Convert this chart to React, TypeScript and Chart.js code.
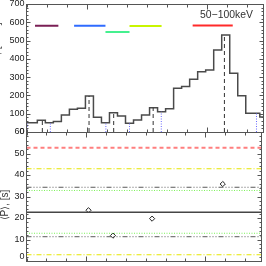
import React, { useEffect, useRef } from "react";
import { Chart, registerables } from "chart.js";

Chart.register(...registerables);

const FONT = "'Liberation Sans', Arial, Helvetica, sans-serif";

// ---------- top panel: light curve (counts) ----------
const BIN_STARTS = [0, 5.4, 9.4, 13.4, 17.4, 21.4, 25.4, 29.4, 33.4, 37.4, 41.4, 45.4, 49.4, 53.4, 57.4, 61.4, 65.4, 69.4, 73.4, 77.4, 81.4, 85.4, 89.4, 93.4, 97.4, 101.4, 105.4, 109.4, 116.4];
const COUNTS = [51, 64, 51, 58, 93, 124, 130, 197, 80, 51, 105, 87, 48, 66, 93, 133, 111, 127, 239, 249, 288, 330, 339, 448, 530, 321, 198, 102, 82];
const X_MIN = 0;
const X_MAX = 118;
const PEAK_TIMES = [7.9, 31.2, 43.5, 63.2, 98.75];
const MIN_TIMES = [0.3, 11.9, 39.6, 51.4, 67.25, 114.75];
const BAR_STARTS = [4.25, 23.75, 39.4, 51.4, 82.9];
const BAR_ENDS = [15.9, 39.4, 51.4, 67.4, 102.9];
const BAR_LEVELS = [581, 581, 547, 580, 583];
const BAR_COLORS = ["#7a1f55", "#2f6bff", "#45f08f", "#c8f500", "#ff2a2a"];
const BAND_LABEL = "50−100keV";
const TOP_TICKS = [0, 100, 200, 300, 400, 500, 600, 700];

// ---------- bottom panel: periods ----------
const PERIOD_TIMES = [31.2, 43.5, 63.2, 98.75];
const PERIODS = [23.6, 11.8, 19.7, 35.8];
const LEVEL_VALUES = [52.7, 42.9, 34.3, 32.8, 22.7, 12.9, 11.3, 2.9];
const LEVEL_KINDS = ["red", "yellow", "gray", "green", "mean", "green", "gray", "yellow"];
const BOTTOM_TICKS = [0, 10, 20, 30, 40, 50, 60];
const X_TICKS = [0, 10, 20, 30, 40, 50, 60, 70, 80, 90, 100, 110];
const X_MAJOR_TICKS = [30, 90];

const LEVEL_STYLE: Record<string, { color: string; dash: number[]; width: number }> = {
  red: { color: "#ff7f7f", dash: [4, 3], width: 2 },
  yellow: { color: "#e6e600", dash: [5, 2, 1, 2], width: 1 },
  gray: { color: "#5a5a5a", dash: [5, 2, 1, 2, 1, 2, 1, 2], width: 1 },
  green: { color: "#7cf25a", dash: [1, 1.5], width: 1 },
  mean: { color: "#454545", dash: [], width: 1.5 },
};

function countAt(t: number) {
  let v = COUNTS[0];
  for (let i = 0; i < BIN_STARTS.length; i++) if (t >= BIN_STARTS[i]) v = COUNTS[i];
  return v;
}

function framePlugin(yMajor: number, yMinor: number, yMax: number) {
  return {
    id: "frame",
    afterDraw(chart: any) {
      const { ctx, chartArea: a, scales } = chart;
      const xs = scales.x;
      const ys = scales.y;
      const L = Math.floor(a.left) + 0.5;
      const R = Math.floor(a.right) + 0.5;
      const T = Math.floor(a.top) + 0.5;
      const B = Math.floor(a.bottom) + 0.5;
      ctx.save();
      ctx.strokeStyle = "#555";
      ctx.lineWidth = 1;
      ctx.beginPath();
      const n = Math.round(yMax / yMinor);
      for (let i = 0; i <= n; i++) {
        const v = i * yMinor;
        const py = Math.round(ys.getPixelForValue(v)) + 0.5;
        const r = v / yMajor;
        const major = Math.abs(r - Math.round(r)) < 1e-6;
        const len = major ? 4 : 2;
        ctx.moveTo(L, py);
        ctx.lineTo(L + len, py);
        ctx.moveTo(R, py);
        ctx.lineTo(R - len, py);
      }
      for (const v of X_TICKS) {
        const px = Math.round(xs.getPixelForValue(v)) + 0.5;
        const len = X_MAJOR_TICKS.includes(v) ? 5 : 3;
        ctx.moveTo(px, B);
        ctx.lineTo(px, B - len);
        ctx.moveTo(px, T);
        ctx.lineTo(px, T + len);
      }
      ctx.stroke();
      ctx.strokeRect(L, T, R - L, B - T);
      ctx.restore();
    },
  };
}

const topTextPlugin = {
  id: "topText",
  afterDraw(chart: any) {
    const { ctx, scales } = chart;
    ctx.save();
    ctx.fillStyle = "#333";
    ctx.font = `10.4px ${FONT}`;
    ctx.textAlign = "left";
    ctx.textBaseline = "middle";
    ctx.fillText(BAND_LABEL, scales.x.getPixelForValue(86.6), scales.y.getPixelForValue(640));
    // y title, mostly outside the picture
    ctx.translate(-3, 62);
    ctx.rotate(-Math.PI / 2);
    ctx.textAlign = "center";
    ctx.font = `10px ${FONT}`;
    ctx.fillText("Count rate, [cnt/s]", 0, 0);
    ctx.restore();
  },
};

const bottomTextPlugin = {
  id: "bottomText",
  afterDraw(chart: any) {
    const { ctx, scales } = chart;
    ctx.save();
    ctx.fillStyle = "#222";
    ctx.font = `9px ${FONT}`;
    ctx.textAlign = "right";
    ctx.textBaseline = "bottom";
    // lowest tick label sits just above the bottom edge
    ctx.fillText(String(BOTTOM_TICKS[0]), 24.5, scales.y.getPixelForValue(BOTTOM_TICKS[0]) + 0.5);
    ctx.fillStyle = "#333";
    ctx.font = `10px ${FONT}`;
    ctx.textAlign = "center";
    ctx.textBaseline = "middle";
    ctx.translate(5.5, 205);
    ctx.rotate(-Math.PI / 2);
    ctx.fillText("⟨P⟩, [s]", 0, 0);
    ctx.restore();
  },
};

function yAxis(min: number, max: number, ticks: number[], hideFirst: boolean) {
  return {
    type: "linear",
    min,
    max,
    afterBuildTicks: (s: any) => {
      s.ticks = ticks.map((v) => ({ value: v }));
    },
    afterFit: (s: any) => {
      s.width = 26.5;
      s.paddingTop = 0;
      s.paddingBottom = 0;
    },
    grid: { display: false, drawTicks: false },
    border: { display: false },
    ticks: {
      padding: 2,
      color: "#222",
      font: { family: FONT, size: 9 },
      autoSkip: false,
      callback: (v: any) => (hideFirst && v === ticks[0] ? "" : String(v)),
    },
  };
}

const xAxis = {
  type: "linear",
  min: X_MIN,
  max: X_MAX,
  display: false,
};

export default function App() {
  const topRef = useRef<HTMLCanvasElement>(null);
  const botRef = useRef<HTMLCanvasElement>(null);

  useEffect(() => {
    const histData = BIN_STARTS.map((x, i) => ({ x, y: COUNTS[i] }));
    histData.push({ x: X_MAX, y: COUNTS[COUNTS.length - 1] });

    const topDatasets: any[] = [];
    PEAK_TIMES.forEach((t) =>
      topDatasets.push({
        data: [{ x: t, y: 0 }, { x: t, y: countAt(t) }],
        borderColor: "#333",
        borderWidth: 1,
        borderDash: [4, 3],
        pointRadius: 0,
      })
    );
    MIN_TIMES.forEach((t) =>
      topDatasets.push({
        data: [{ x: t, y: 0 }, { x: t, y: countAt(t) }],
        borderColor: "#6a6aff",
        borderWidth: 1,
        borderDash: [1, 1.5],
        pointRadius: 0,
      })
    );
    BAR_STARTS.forEach((s, i) =>
      topDatasets.push({
        data: [{ x: s, y: BAR_LEVELS[i] }, { x: BAR_ENDS[i], y: BAR_LEVELS[i] }],
        borderColor: BAR_COLORS[i],
        borderWidth: 2,
        pointRadius: 0,
      })
    );
    topDatasets.push({
      data: histData,
      stepped: "before",
      borderColor: "#4a4a4a",
      borderWidth: 1.5,
      pointRadius: 0,
    });

    const top = new Chart(topRef.current as HTMLCanvasElement, {
      type: "line",
      data: { datasets: topDatasets },
      options: {
        animation: false,
        responsive: false,
        devicePixelRatio: 1,
        layout: { padding: { left: 0, right: 3, top: 4, bottom: 134 } },
        plugins: { legend: { display: false }, tooltip: { enabled: false } },
        scales: { x: xAxis as any, y: yAxis(0, 700, TOP_TICKS, false) as any },
      },
      plugins: [framePlugin(100, 20, 700), topTextPlugin],
    });

    const botDatasets: any[] = LEVEL_VALUES.map((v, i) => {
      const st = LEVEL_STYLE[LEVEL_KINDS[i]];
      return {
        data: [{ x: X_MIN, y: v }, { x: X_MAX, y: v }],
        borderColor: st.color,
        borderWidth: st.width,
        borderDash: st.dash,
        pointRadius: 0,
      };
    });
    botDatasets.push({
      data: PERIOD_TIMES.map((x, i) => ({ x, y: PERIODS[i] })),
      showLine: false,
      pointStyle: "rectRot",
      pointRadius: 2.6,
      pointBorderWidth: 1,
      pointBorderColor: "#222",
      pointBackgroundColor: "rgba(0,0,0,0)",
    });

    const bot = new Chart(botRef.current as HTMLCanvasElement, {
      type: "line",
      data: { datasets: botDatasets },
      options: {
        animation: false,
        responsive: false,
        devicePixelRatio: 1,
        layout: { padding: { left: 0, right: 3, top: 132, bottom: 3.3 } },
        plugins: { legend: { display: false }, tooltip: { enabled: false } },
        scales: { x: xAxis as any, y: yAxis(0, 60, BOTTOM_TICKS, true) as any },
      },
      plugins: [framePlugin(10, 2, 60), bottomTextPlugin],
    });

    return () => {
      top.destroy();
      bot.destroy();
    };
  }, []);

  const cs: React.CSSProperties = { position: "absolute", left: 0, top: 0, width: 266, height: 266 };
  return (
    <div style={{ position: "fixed", left: 0, top: 0, width: 266, height: 266, background: "#fff" }}>
      <canvas ref={topRef} width={266} height={266} style={cs} />
      <canvas ref={botRef} width={266} height={266} style={cs} />
    </div>
  );
}
